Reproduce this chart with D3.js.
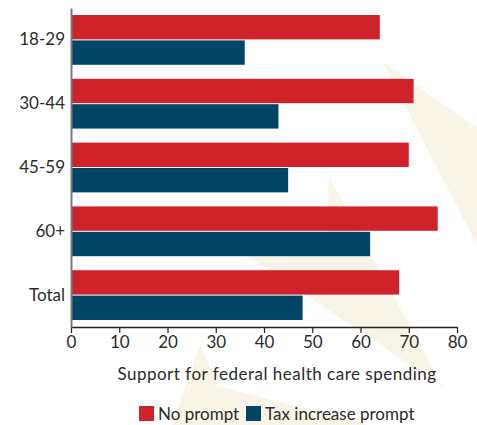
<!DOCTYPE html>
<html>
<head>
<meta charset="utf-8">
<script src="https://cdn.jsdelivr.net/npm/d3@7"></script>
<style>
  html, body { margin: 0; padding: 0; background: #ffffff; }
  svg { display: block; }
  text { font-family: Lato, "Open Sans", sans-serif; fill: #2b2b2b; }
</style>
</head>
<body>
<svg id="chart" width="477" height="425"></svg>
<script>
// Age groups and support (%) for federal health care spending
const ageGroups = ["18-29", "30-44", "45-59", "60+", "Total"];
const noPrompt = [64, 71, 70, 76, 68];
const taxIncreasePrompt = [36, 43, 45, 62, 48];
const seriesNames = ["No prompt", "Tax increase prompt"];
const seriesColors = ["#cf222a", "#004566"];
const xTicks = [0, 10, 20, 30, 40, 50, 60, 70, 80];
const xTitle = "Support for federal health care spending";

const svg = d3.select("#chart");

// Faint decorative backdrop shapes
const backdrop = [
  [[382, 61], [477, 128], [477, 245]],
  [[329, 177], [443, 387], [242, 252], [327, 242]],
  [[200, 345], [218, 386], [368, 425], [172, 425]]
];
svg.append("g")
  .selectAll("polygon")
  .data(backdrop)
  .join("polygon")
  .attr("points", d => d.map(p => p.join(",")).join(" "))
  .attr("fill", "#f8f5e8");

const plot = { left: 71, right: 457, top: 8, bottom: 327 };

const x = d3.scaleLinear().domain([0, 80]).range([plot.left, plot.right]);
const y = d3.scaleBand().domain(ageGroups).range([plot.top, plot.bottom])
  .paddingInner(0.22).paddingOuter(0.11);
const sub = d3.scaleBand().domain(seriesNames).range([0, y.bandwidth()]).paddingInner(0.04);

const rows = ageGroups.map((g, i) => ({ group: g, values: [noPrompt[i], taxIncreasePrompt[i]] }));

const groups = svg.append("g")
  .selectAll("g")
  .data(rows)
  .join("g")
  .attr("transform", d => `translate(0,${y(d.group)})`);

groups.selectAll("rect")
  .data(d => d.values.map((v, k) => ({ key: seriesNames[k], value: v, color: seriesColors[k] })))
  .join("rect")
  .attr("x", x(0))
  .attr("y", d => sub(d.key))
  .attr("width", d => x(d.value) - x(0))
  .attr("height", sub.bandwidth())
  .attr("fill", d => d.color);

// X axis
const xAxis = svg.append("g")
  .attr("transform", `translate(0,${plot.bottom})`)
  .call(d3.axisBottom(x).tickValues(xTicks).tickSize(6).tickSizeOuter(0).tickPadding(3));
xAxis.select(".domain").attr("stroke", "#222").attr("stroke-width", 1.5);
xAxis.selectAll(".tick line").attr("stroke", "#222").attr("stroke-width", 1.2);
xAxis.selectAll(".tick text").attr("font-size", 17).attr("font-family", "Lato, sans-serif").attr("fill", "#2b2b2b");

// Y axis
const yAxis = svg.append("g")
  .attr("transform", `translate(${plot.left},0)`)
  .call(d3.axisLeft(y).tickSize(0).tickPadding(6));
yAxis.select(".domain").attr("stroke", "#7a7a7a").attr("stroke-width", 2);
yAxis.selectAll(".tick text").attr("font-size", 17).attr("font-family", "Lato, sans-serif").attr("fill", "#2b2b2b");

// Axis title
svg.append("text")
  .attr("x", 277)
  .attr("y", 380)
  .attr("text-anchor", "middle")
  .attr("font-size", 17)
  .attr("letter-spacing", 0.5)
  .text(xTitle);

// Legend
const legend = svg.append("g").attr("transform", "translate(139,406)");
const legendX = [0, 107];
const items = legend.selectAll("g")
  .data(seriesNames)
  .join("g")
  .attr("transform", (d, i) => `translate(${legendX[i]},0)`);
items.append("rect")
  .attr("width", 15).attr("height", 15)
  .attr("fill", (d, i) => seriesColors[i]);
items.append("text")
  .attr("x", 19)
  .attr("y", 13.5)
  .attr("font-size", 17)
  .text(d => d);
</script>
</body>
</html>
